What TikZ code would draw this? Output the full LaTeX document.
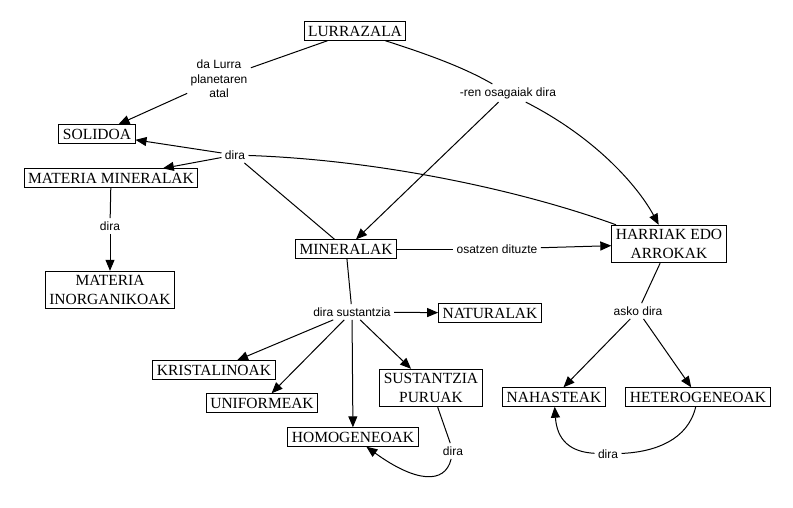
\documentclass[tikz,border=0pt]{standalone}
\usepackage{fontspec}
\setmainfont{Liberation Serif}
\newfontfamily\linkfont{Liberation Sans}
\usetikzlibrary{shapes,arrows,arrows.meta,calc}
\tikzstyle{concept}=[draw, rectangle, align=center, inner xsep=4pt, inner ysep=4pt, font=\fontsize{15.5}{19}\selectfont]
\tikzstyle{link}=[align=center, inner sep=3pt, font=\linkfont\fontsize{12}{14.5}\selectfont]
\tikzstyle{arrow}=[draw, -{Triangle[length=11pt,width=9pt]}]
\tikzstyle{line}=[draw]

\begin{document}
\begin{tikzpicture}[x=1pt, y=-1pt, line width=1pt]
\useasboundingbox (0,0) rectangle (793,507);

% kontzeptuak
\node [concept] (lurrazala) at (355,31) {LURRAZALA};
\node [concept] (solidoa) at (97,134) {SOLIDOA};
\node [concept] (matmin) at (111,178) {MATERIA MINERALAK};
\node [concept] (matinorg) at (110,290) {MATERIA\\INORGANIKOAK};
\node [concept] (mineralak) at (346,249) {MINERALAK};
\node [concept] (harriak) at (669,244) {HARRIAK EDO\\ARROKAK};
\node [concept] (naturalak) at (490,313) {NATURALAK};
\node [concept] (kristal) at (214,370) {KRISTALINOAK};
\node [concept] (uniform) at (262,403) {UNIFORMEAK};
\node [concept] (homogen) at (353,437) {HOMOGENEOAK};
\node [concept] (sustantzia) at (431,388) {SUSTANTZIA\\PURUAK};
\node [concept] (nahasteak) at (554,397) {NAHASTEAK};
\node [concept] (hetero) at (698,397) {HETEROGENEOAK};

% loturak
\node [link] (dalurra) at (219,79) {da Lurra\\planetaren\\atal};
\node [link] (osagaiak) at (508,93) {-ren osagaiak dira};
\node [link] (dira1) at (235,155) {dira};
\node [link] (dira2) at (110,226) {dira};
\node [link] (osatzen) at (497,249) {osatzen dituzte};
\node [link] (dirasust) at (352,312) {dira sustantzia};
\node [link] (askodira) at (638,311) {asko dira};
\node [link] (dira3) at (453,451) {dira};
\node [link] (dira4) at (608,454) {dira};

\draw [line] (lurrazala) .. controls (430,55) and (465,68) .. (osagaiak);
\draw [line] (lurrazala) -- (dalurra);
\draw [arrow] (dalurra) -- (solidoa);
\draw [arrow] (osagaiak) -- (mineralak);
\draw [arrow] (osagaiak) .. controls (600,140) and (640,190) .. (harriak);
\draw [line] (harriak) .. controls (520,190) and (380,160) .. (dira1);
\draw [line] (mineralak) -- (dira1);
\draw [arrow] (dira1) -- (solidoa);
\draw [arrow] (dira1) -- (matmin);
\draw [line] (matmin) -- (dira2);
\draw [arrow] (dira2) -- (matinorg);
\draw [line] (mineralak) -- (osatzen);
\draw [arrow] (osatzen) -- (harriak);
\draw [line] (mineralak) -- (dirasust);
\draw [arrow] (dirasust) -- (naturalak);
\draw [arrow] (dirasust) -- (kristal);
\draw [arrow] (dirasust) -- (uniform);
\draw [arrow] (dirasust) -- (homogen);
\draw [arrow] (dirasust) -- (sustantzia);
\draw [line] (harriak) -- (askodira);
\draw [arrow] (askodira) -- (nahasteak);
\draw [arrow] (askodira) -- (hetero);
\draw [line] (sustantzia) -- (dira3);
\draw [arrow] (dira3) .. controls (445,485) and (415,482) .. (homogen);
\draw [line] (hetero) .. controls (688,440) and (655,452) .. (dira4);
\draw [arrow] (dira4) .. controls (570,452) and (557,440) .. (nahasteak);

\end{tikzpicture}
\end{document}
